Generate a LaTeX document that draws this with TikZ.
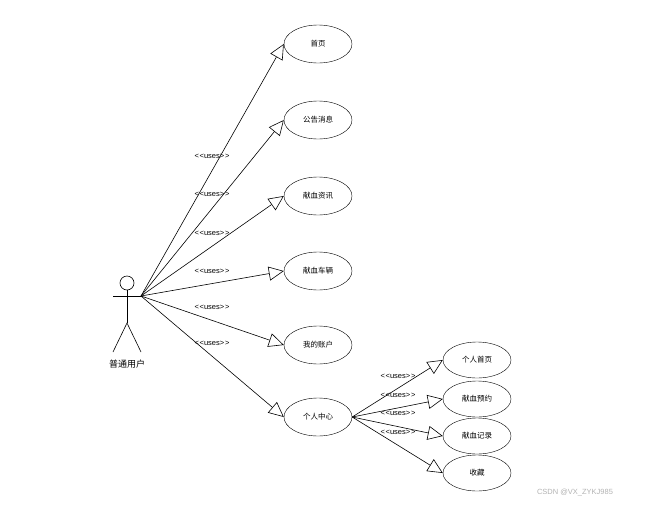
\documentclass[tikz,border=0pt]{standalone}
\usepackage{fontspec}
\setmainfont{Liberation Sans}
\newfontfamily\cjk{Noto Sans CJK SC}
\usetikzlibrary{arrows.meta,shapes.geometric}
\newcommand{\usestxt}{<\kern0.8pt<uses>\kern0.8pt>}
\begin{document}
\begin{tikzpicture}[x=1pt,y=-1pt,
  uc/.style={draw,ellipse,minimum width=68pt,minimum height=38pt,inner sep=0pt,font=\cjk\fontsize{7.5}{8}\selectfont},
  ucs/.style={uc,minimum height=36pt},
  rel/.style={draw,line width=0.6pt,-{Triangle[open,length=15pt,width=14pt]}},
  lbl/.style={font=\fontsize{7.5}{9}\selectfont,inner sep=0pt}]
\useasboundingbox (0,0) rectangle (646,504);
% actor
\node[draw,circle,minimum size=14pt,inner sep=0pt,line width=0.6pt] (head) at (127,283) {};
\coordinate (armL) at (113,296);
\coordinate (hub) at (141,296);
\coordinate (hip) at (127,323);
\coordinate (footL) at (113,352);
\coordinate (footR) at (141,352);
\draw[line width=0.6pt] (head.south) -- (hip);
\draw[line width=0.6pt] (armL) -- (hub);
\draw[line width=0.6pt] (footL) -- (hip) -- (footR);
\node[font=\cjk\fontsize{9}{10}\selectfont] (actor) at (127,364) {普通用户};
% use cases
\node[uc] (u1) at (318,44) {首页};
\node[uc] (u2) at (318,120) {公告消息};
\node[uc] (u3) at (318,196) {献血资讯};
\node[uc] (u4) at (318,271) {献血车辆};
\node[uc] (u5) at (318,345) {我的账户};
\node[uc] (u6) at (318,417) {个人中心};
\node[ucs] (v1) at (477,360) {个人首页};
\node[ucs] (v2) at (477,399) {献血预约};
\node[ucs] (v3) at (477,436) {献血记录};
\node[ucs] (v4) at (477,473) {收藏};
% relations
\foreach \t in {u1,u2,u3,u4,u5,u6} \draw[rel] (hub) -- (\t.west);
\foreach \t in {v1,v2,v3,v4} \draw[rel] (u6.east) -- (\t.west);
% labels
\node[lbl] (l1) at (212,156) {\usestxt};
\node[lbl] (l2) at (212,194) {\usestxt};
\node[lbl] (l3) at (212,233) {\usestxt};
\node[lbl] (l4) at (212,271) {\usestxt};
\node[lbl] (l5) at (212,307) {\usestxt};
\node[lbl] (l6) at (212,343) {\usestxt};
\node[lbl] (m1) at (398,376) {\usestxt};
\node[lbl] (m2) at (398,395) {\usestxt};
\node[lbl] (m3) at (398,413) {\usestxt};
\node[lbl] (m4) at (398,432) {\usestxt};
\node[font=\fontsize{7.5}{8}\selectfont,text=black!30] (wm) at (575,493) {CSDN @VX\_ZYKJ985};
\end{tikzpicture}
\end{document}
